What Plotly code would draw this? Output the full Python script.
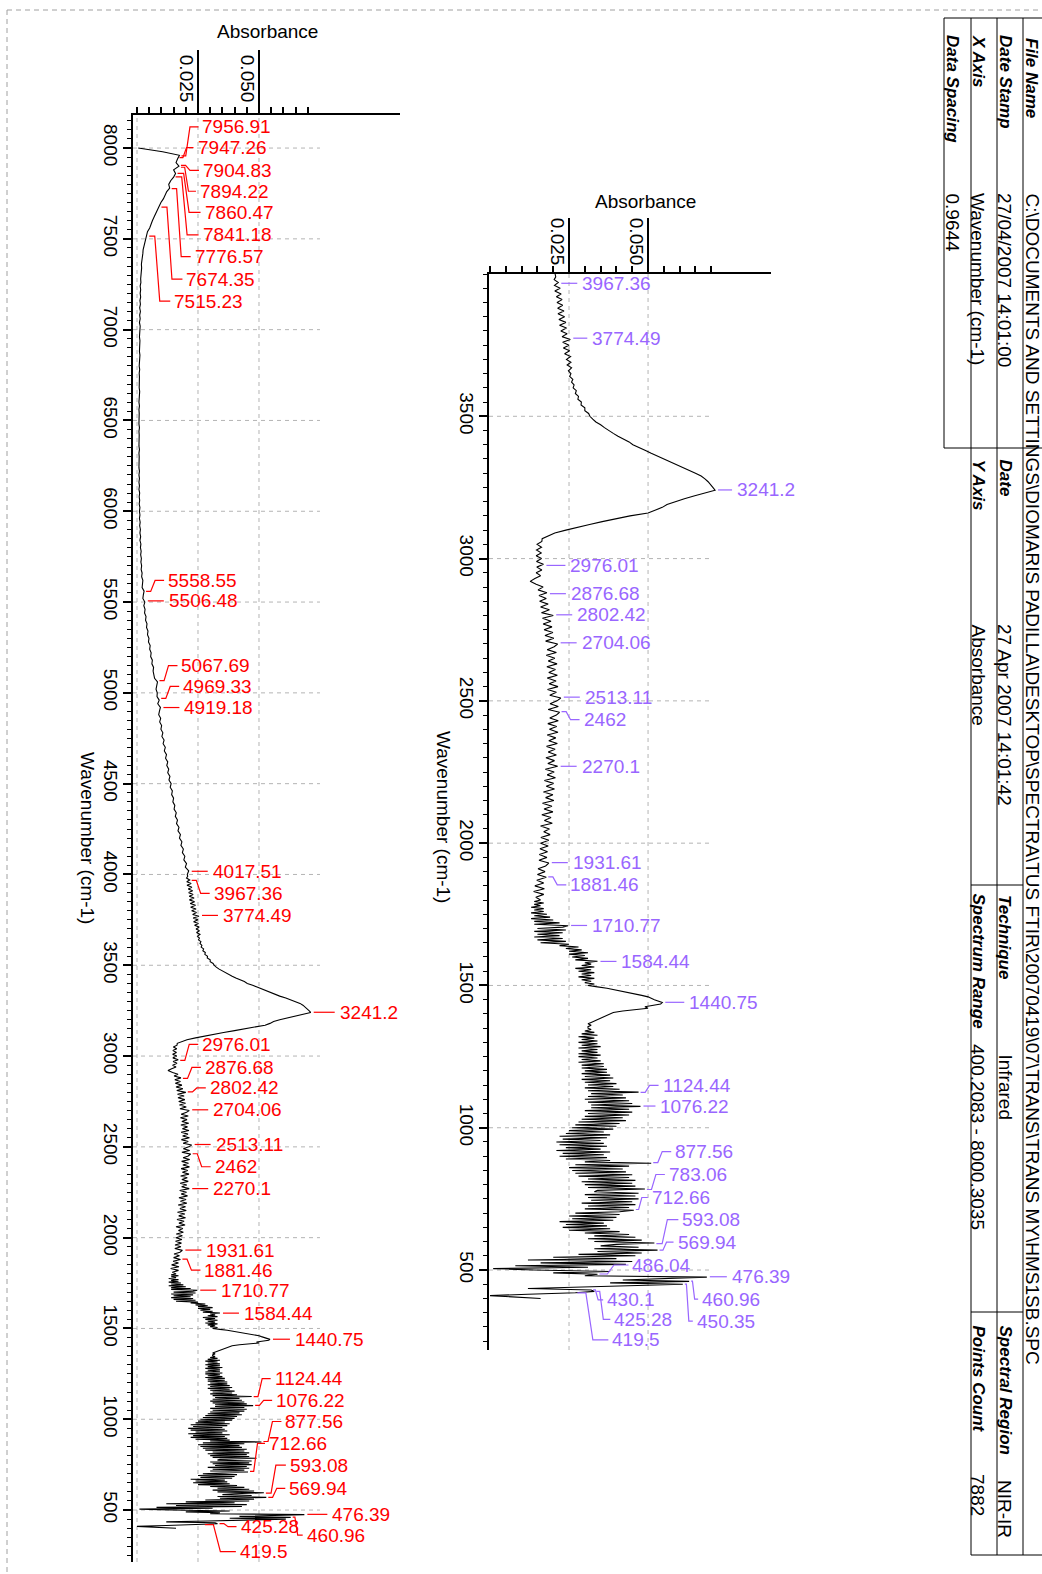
import numpy as np
import plotly.graph_objects as go

W, H = 1042, 1574
FONT = "Liberation Sans"
RED = "#ff0000"
PURPLE = "#9966ff"
GRID = "#b4b4b4"

# -----------------------------------------------------------
# Spectrum, absorbance
# -----------------------------------------------------------
# 400 .. 1800 cm-1, every 5 cm-1
abs_400_1800 = [
    0.016, 0.006, 0.000, 0.012, 0.027, 0.033, 0.032, 0.012, 0.029, 0.044,
    0.061, 0.038, 0.063, 0.042, 0.055, 0.0686, 0.030, 0.034, 0.020, 0.038,
    0.014, 0.001, 0.031, 0.008, 0.043, 0.016, 0.045, 0.012, 0.040, 0.020,
    0.046, 0.028, 0.048, 0.034, 0.053, 0.033, 0.047, 0.035, 0.040, 0.052,
    0.033, 0.048, 0.031, 0.046, 0.033, 0.044, 0.030, 0.041, 0.025, 0.038,
    0.023, 0.037, 0.024, 0.036, 0.022, 0.039, 0.026, 0.040, 0.025, 0.041,
    0.027, 0.041, 0.0455, 0.030, 0.044, 0.031, 0.046, 0.029, 0.045, 0.032,
    0.047, 0.031, 0.046, 0.030, 0.047, 0.033, 0.034, 0.049, 0.031, 0.046,
    0.030, 0.045, 0.029, 0.046, 0.031, 0.044, 0.028, 0.045, 0.027, 0.043,
    0.026, 0.042, 0.025, 0.044, 0.027, 0.051, 0.030, 0.038, 0.024, 0.037,
    0.022, 0.036, 0.023, 0.038, 0.021, 0.035, 0.024, 0.037, 0.022, 0.036,
    0.021, 0.035, 0.023, 0.037, 0.022, 0.038, 0.024, 0.036, 0.025, 0.039,
    0.026, 0.040, 0.027, 0.041, 0.028, 0.043, 0.029, 0.042, 0.030, 0.044,
    0.031, 0.045, 0.030, 0.044, 0.032, 0.0476, 0.032, 0.045, 0.031, 0.044,
    0.030, 0.043, 0.031, 0.042, 0.032, 0.047, 0.031, 0.041, 0.030, 0.039,
    0.031, 0.040, 0.030, 0.038, 0.029, 0.039, 0.030, 0.038, 0.029, 0.037,
    0.030, 0.037, 0.029, 0.036, 0.029, 0.036, 0.028, 0.035, 0.029, 0.034,
    0.028, 0.035, 0.028, 0.034, 0.029, 0.034, 0.028, 0.035, 0.029, 0.034,
    0.028, 0.034, 0.029, 0.033, 0.028, 0.034, 0.029, 0.033, 0.030, 0.032,
    0.031, 0.031, 0.032, 0.031, 0.032, 0.033, 0.034, 0.035, 0.036, 0.037,
    0.038, 0.039, 0.042, 0.046, 0.050, 0.049, 0.052, 0.054, 0.0545, 0.053,
    0.052, 0.051, 0.050, 0.048, 0.046, 0.044, 0.042, 0.040, 0.037, 0.034,
    0.031, 0.033, 0.030, 0.032, 0.029, 0.033, 0.028, 0.032, 0.029, 0.033,
    0.028, 0.032, 0.027, 0.033, 0.029, 0.032, 0.030, 0.034, 0.027, 0.031,
    0.026, 0.030, 0.025, 0.031, 0.025, 0.029, 0.024, 0.028, 0.022, 0.025,
    0.016, 0.024, 0.015, 0.023, 0.014, 0.022, 0.015, 0.023, 0.014, 0.024,
    0.015, 0.023, 0.0247, 0.014, 0.022, 0.014, 0.020, 0.013, 0.019, 0.014,
    0.018, 0.013, 0.017, 0.014, 0.017, 0.013, 0.016, 0.014, 0.017, 0.014,
    0.016,
]

# 1810 .. 3990 cm-1, every 10 cm-1
abs_1810_3990 = [
    0.0145, 0.0170, 0.0138, 0.0172, 0.0142, 0.0170, 0.0148, 0.0178, 0.0150, 0.0174,
    0.0152, 0.0176, 0.0186, 0.0155, 0.0180, 0.0156, 0.0182, 0.0158, 0.0184, 0.0160,
    0.0186, 0.0161, 0.0190, 0.0170, 0.0188, 0.0160, 0.0197, 0.0172, 0.0193, 0.0164,
    0.0199, 0.0171, 0.0196, 0.0166, 0.0202, 0.0176, 0.0199, 0.0169, 0.0204, 0.0178,
    0.0201, 0.0172, 0.0207, 0.0181, 0.0203, 0.0175, 0.0214, 0.0183, 0.0204, 0.0177,
    0.0210, 0.0184, 0.0206, 0.0179, 0.0213, 0.0186, 0.0208, 0.0181, 0.0215, 0.0188,
    0.0211, 0.0183, 0.0216, 0.0189, 0.0210, 0.0220, 0.0184, 0.0216, 0.0190, 0.0212,
    0.0224, 0.0189, 0.0210, 0.0182, 0.0215, 0.0187, 0.0209, 0.0181, 0.0213, 0.0186,
    0.0207, 0.0180, 0.0212, 0.0184, 0.0205, 0.0178, 0.0210, 0.0181, 0.0203, 0.0214,
    0.0176, 0.0202, 0.0174, 0.0199, 0.0171, 0.0196, 0.0168, 0.0193, 0.0166, 0.0200,
    0.0163, 0.0188, 0.0160, 0.0184, 0.0157, 0.0178, 0.0155, 0.0180, 0.0152, 0.0168,
    0.0146, 0.0127, 0.0142, 0.0160, 0.0146, 0.0164, 0.0148, 0.0169, 0.0147, 0.0163,
    0.0146, 0.0162, 0.0147, 0.0163, 0.0149, 0.0164, 0.0165, 0.0185, 0.0205, 0.0240,
    0.0274, 0.0315, 0.0355, 0.0400, 0.0443, 0.0500, 0.0525, 0.0545, 0.0560, 0.0585,
    0.0615, 0.0645, 0.0680, 0.0712, 0.0705, 0.0698, 0.0690, 0.0680, 0.0668, 0.0650,
    0.0630, 0.0610, 0.0585, 0.0565, 0.0545, 0.0528, 0.0510, 0.0492, 0.0474, 0.0452,
    0.0440, 0.0420, 0.0405, 0.0390, 0.0375, 0.0362, 0.0350, 0.0335, 0.0325, 0.0316,
    0.0312, 0.0300, 0.0300, 0.0288, 0.0289, 0.0278, 0.0280, 0.0270, 0.0273, 0.0263,
    0.0266, 0.0258, 0.0262, 0.0252, 0.0256, 0.0248, 0.0258, 0.0244, 0.0256, 0.0242,
    0.0255, 0.0236, 0.0252, 0.0232, 0.0250, 0.0230, 0.0254, 0.0228, 0.0244, 0.0224,
    0.0242, 0.0220, 0.0240, 0.0218, 0.0236, 0.0215, 0.0234, 0.0214, 0.0230, 0.0212,
    0.0228, 0.0210, 0.0225, 0.0205, 0.0222, 0.0204, 0.0216, 0.0203, 0.0208,
]

# 4000 .. 8000 cm-1, every 20 cm-1
abs_4000_8000 = [
    0.0206, 0.0212, 0.0198, 0.0203, 0.0192, 0.0196, 0.0186, 0.0190, 0.0180, 0.0184,
    0.0174, 0.0178, 0.0168, 0.0172, 0.0162, 0.0166, 0.0157, 0.0161, 0.0152, 0.0155,
    0.0147, 0.0150, 0.0142, 0.0145, 0.0136, 0.0140, 0.0131, 0.0135, 0.0126, 0.0130,
    0.0122, 0.0126, 0.0117, 0.0121, 0.0112, 0.0116, 0.0107, 0.0111, 0.0102, 0.0106,
    0.0098, 0.0101, 0.0093, 0.0097, 0.0089, 0.0092, 0.0096, 0.0085, 0.0091, 0.0082,
    0.0083, 0.0078, 0.0081, 0.0084, 0.0072, 0.0070, 0.0066, 0.0068, 0.0061, 0.0063,
    0.0056, 0.0058, 0.0052, 0.0054, 0.0047, 0.0049, 0.0043, 0.0045, 0.0039, 0.0041,
    0.0035, 0.0037, 0.0031, 0.0033, 0.0028, 0.0032, 0.0024, 0.0026, 0.0029, 0.0021,
    0.0022, 0.0024, 0.0019, 0.0021, 0.0017, 0.0019, 0.0016, 0.0018, 0.0015, 0.0017,
    0.0014, 0.0016, 0.0012, 0.0015, 0.0012, 0.0014, 0.0011, 0.0013, 0.0010, 0.0012,
    0.0010, 0.0012, 0.0009, 0.0011, 0.0009, 0.0011, 0.0008, 0.0010, 0.0008, 0.0010,
    0.0008, 0.0010, 0.0008, 0.0009, 0.0007, 0.0009, 0.0008, 0.0010, 0.0008, 0.0009,
    0.0007, 0.0009, 0.0008, 0.0010, 0.0008, 0.0009, 0.0007, 0.0009, 0.0008, 0.0010,
    0.0008, 0.0010, 0.0009, 0.0011, 0.0009, 0.0010, 0.0008, 0.0010, 0.0009, 0.0011,
    0.0009, 0.0011, 0.0010, 0.0012, 0.0010, 0.0011, 0.0009, 0.0012, 0.0010, 0.0012,
    0.0011, 0.0013, 0.0010, 0.0013, 0.0011, 0.0014, 0.0011, 0.0014, 0.0012, 0.0015,
    0.0013, 0.0015, 0.0013, 0.0016, 0.0015, 0.0017, 0.0016, 0.0019, 0.0018, 0.0021,
    0.0021, 0.0024, 0.0025, 0.0029, 0.0031, 0.0037, 0.0042, 0.0043, 0.0052, 0.0056,
    0.0063, 0.0070, 0.0077, 0.0082, 0.0092, 0.0098, 0.0108, 0.0114, 0.0122, 0.0134,
    0.0130, 0.0138, 0.0150, 0.0158, 0.0150, 0.0172, 0.0160, 0.0166, 0.0174, 0.0105,
    0.0005,
]

wn_400_1800 = np.arange(400, 1801, 5)
wn_1810_3990 = np.arange(1810, 3991, 10)
wn_4000_8000 = np.arange(4000, 8001, 20)
assert len(wn_400_1800) == len(abs_400_1800)
assert len(wn_1810_3990) == len(abs_1810_3990)
assert len(wn_4000_8000) == len(abs_4000_8000)

wn_all = np.concatenate([wn_400_1800, wn_1810_3990, wn_4000_8000]).astype(float)
ab_all = np.array(abs_400_1800 + abs_1810_3990 + abs_4000_8000)
step_all = np.concatenate([np.full(len(wn_400_1800), 5.0),
                           np.full(len(wn_1810_3990), 10.0),
                           np.full(len(wn_4000_8000), 20.0)])

# -----------------------------------------------------------
# Peak labels (picked wavenumbers) and their label offsets in px
# -----------------------------------------------------------
left_peaks = [7956.91, 7947.26, 7904.83, 7894.22, 7860.47, 7841.18, 7776.57,
              7674.35, 7515.23, 5558.55, 5506.48, 5067.69, 4969.33, 4919.18,
              4017.51, 3967.36, 3774.49, 3241.2, 2976.01, 2876.68, 2802.42,
              2704.06, 2513.11, 2462, 2270.1, 1931.61, 1881.46, 1710.77,
              1584.44, 1440.75, 1124.44, 1076.22, 877.56, 712.66, 593.08,
              569.94, 476.39, 460.96, 425.28, 419.5]
left_dy = [-29, -10, 5, 24, 39, 58, 68, 72, 65, -11, 0, -15, -12, 0,
           0, 13, 0, 0, -16, -11, -4, 0, 0, 13, 0, 0, 11, 0,
           0, 0, -18, -5, -20, -28, -28, -9, 0, 18, 3, 27]
left_dx = [21, 18, 22, 19, 27, 27, 23, 25, 25, 22, 22, 22, 22, 22,
           22, 22, 22, 27, 22, 22, 22, 22, 22, 22, 22, 22, 22, 22,
           22, 23, 21, 21, 22, 19, 24, 21, 26, 14, 21, 35]

right_peaks = [3967.36, 3774.49, 3241.2, 2976.01, 2876.68, 2802.42, 2704.06,
               2513.11, 2462, 2270.1, 1931.61, 1881.46, 1710.77, 1584.44,
               1440.75, 1124.44, 1076.22, 877.56, 783.06, 712.66, 593.08,
               569.94, 486.04, 476.39, 460.96, 450.35, 430.1, 425.28, 419.5]
right_dy = [0, 0, 0, 0, 0, 0, 0, 0, 8, 0, 0, 8, 0, 0,
            0, -7, 0, -11, -15, -12, -24, -8, -9, 0, 18, 37, 10, 28, 47]
right_dx = [22, 20, 20, 25, 22, 22, 22, 22, 22, 22, 22, 22, 22, 22,
            25, 22, 18, 22, 22, 16, 26, 18, 33, 23, 11, 12, 14, 18, 35]

# -----------------------------------------------------------
# Info table
# -----------------------------------------------------------
table_labels = ["File Name", "Date Stamp", "Date", "Technique", "Spectral Region",
                "X Axis", "Y Axis", "Spectrum Range", "Points Count", "Data Spacing"]
table_values = [r"C:\DOCUMENTS AND SETTINGS\DIOMARIS PADILLA\DESKTOP\SPECTRA\TUS FTIR\20070419\07\TRANS\TRANS MY\HMS1SB.SPC",
                "27/04/2007 14:01:00", "27 Apr 2007 14:01:42", "Infrared", "NIR-IR",
                "Wavenumber (cm-1)", "Absorbance", "400.2083 - 8000.3035", "7882", "0.9644"]
# (row centre x, label start y, value start y) in page pixels
table_cells = [(1032, 36, 191), (1005, 33, 191), (1005, 457, 622), (1005, 893, 1052),
               (1005, 1323, 1478), (978, 33, 191), (978, 457, 622), (978, 891, 1042),
               (978, 1323, 1472), (952, 33, 191)]


def px(x):
    return x / W


def py(y):
    return 1 - y / H


def peak_abs(w):
    near = np.abs(wn_all - w) <= 0.55 * step_all
    return float(ab_all[near].max())


def connector(dx, dy):
    if dy == 0:
        return f"M 3,0 L {dx - 3},0"
    return (f"M 2,0 L {0.3 * dx:.1f},0 L {0.5 * dx:.1f},{-dy} "
            f"L {dx - 2},{-dy}")


# panel geometry in page pixels
L_X0, L_X1, L_Y0, L_Y1 = 133, 400, 115, 1562
R_X0, R_X1, R_Y0, R_Y1 = 489, 771, 274, 1350
L_XR, L_YR = [-0.00164, 0.1078], [214, 8182]
R_XR, R_YR = [-0.00032, 0.0889], [219, 4000]

minor_abs = [round(i * 0.005, 3) for i in range(15)]

fig = go.Figure()

fig.add_trace(go.Scatter(x=ab_all, y=wn_all, mode="lines",
                         line=dict(color="black", width=1.1),
                         xaxis="x", yaxis="y", hoverinfo="skip"))
keep = wn_all <= 4000
fig.add_trace(go.Scatter(x=ab_all[keep], y=wn_all[keep], mode="lines",
                         line=dict(color="black", width=1.1),
                         xaxis="x2", yaxis="y2", hoverinfo="skip"))


def abs_axis(x0, x1, rng, anchor, ticklen, standoff):
    return dict(domain=[px(x0), px(x1)], range=rng, anchor=anchor, side="top",
                showline=True, linecolor="black", linewidth=2,
                tickmode="array", tickvals=[0.025, 0.05], ticktext=["0.025", "0.050"],
                ticks="outside", ticklen=ticklen, tickwidth=1.5, tickcolor="black",
                tickangle=90, tickfont=dict(family=FONT, size=19, color="black"),
                ticklabelstandoff=standoff, ticklabelshift=-12,
                minor=dict(tickmode="array", tickvals=minor_abs, ticks="outside",
                           ticklen=6, tickwidth=1.5, tickcolor="black", showgrid=False),
                showgrid=False, zeroline=False, fixedrange=True)


def wn_axis(y0, y1, rng, anchor, top):
    return dict(domain=[py(y1), py(y0)], range=rng, anchor=anchor,
                showline=True, linecolor="black", linewidth=2,
                tickmode="array", tickvals=list(range(500, top + 1, 500)),
                ticks="outside", ticklen=8, tickwidth=1.5, tickcolor="black",
                tickangle=90, tickfont=dict(family=FONT, size=19, color="black"),
                ticklabelstandoff=-4,
                minor=dict(dtick=50, tick0=0, ticks="outside", ticklen=4,
                           tickwidth=1.2, tickcolor="black", showgrid=False),
                showgrid=False, zeroline=False, fixedrange=True)


fig.update_layout(
    xaxis=abs_axis(L_X0, L_X1, L_XR, "y", 63, -59),
    yaxis=wn_axis(L_Y0, L_Y1, L_YR, "x", 8000),
    xaxis2=abs_axis(R_X0, R_X1, R_XR, "y2", 54, -54),
    yaxis2=wn_axis(R_Y0, R_Y1, R_YR, "x2", 3500),
)

# grid
dash = dict(color=GRID, width=1, dash="4px,4px")
for v in [0, 0.025, 0.05]:
    fig.add_shape(type="line", xref="x", yref="y domain", x0=v, x1=v, y0=0, y1=1,
                  line=dash, layer="below")
for w in range(500, 8001, 500):
    fig.add_shape(type="line", xref="x", yref="y", x0=L_XR[0], x1=0.075, y0=w, y1=w,
                  line=dash, layer="below")
for v in [0.025, 0.05]:
    fig.add_shape(type="line", xref="x2", yref="y2 domain", x0=v, x1=v, y0=0, y1=1,
                  line=dash, layer="below")
for w in range(500, 3501, 500):
    fig.add_shape(type="line", xref="x2", yref="y2", x0=R_XR[0], x1=0.070, y0=w, y1=w,
                  line=dash, layer="below")

# peak labels
for peaks, dys, dxs, xr, yr, col in [(left_peaks, left_dy, left_dx, "x", "y", RED),
                                     (right_peaks, right_dy, right_dx, "x2", "y2", PURPLE)]:
    for w, dy, dx in zip(peaks, dys, dxs):
        a = peak_abs(w)
        fig.add_shape(type="path", xref=xr, yref=yr, xsizemode="pixel", ysizemode="pixel",
                      xanchor=a, yanchor=w, path=connector(dx, dy),
                      line=dict(color=col, width=1.2))
        fig.add_annotation(x=a, y=w, xref=xr, yref=yr, text=f"{w:g}", showarrow=False,
                           xanchor="left", yanchor="middle", xshift=dx, yshift=-dy,
                           font=dict(family=FONT, size=19, color=col))

# axis titles
title_font = dict(family=FONT, size=19, color="black")
for x, y, txt, ang in [(267, 32, "Absorbance", 0), (645, 201, "Absorbance", 0),
                       (88, 838, "Wavenumber (cm-1)", 90), (444, 817, "Wavenumber (cm-1)", 90)]:
    fig.add_annotation(x=px(x), y=py(y), xref="paper", yref="paper", text=txt,
                       showarrow=False, textangle=ang, xanchor="center", yanchor="middle",
                       font=title_font)

# info table frame
frame = dict(color="black", width=1)
for x, y0, y1 in [(944, 18, 448), (971, 18, 1555), (997, 18, 1555), (1023, 18, 1555)]:
    fig.add_shape(type="line", xref="paper", yref="paper", x0=px(x), x1=px(x),
                  y0=py(y0), y1=py(y1), line=frame)
for y, x0, x1 in [(18, 944, 1042), (448, 944, 1042), (885, 971, 1023),
                  (1312, 971, 1023), (1555, 971, 1042)]:
    fig.add_shape(type="line", xref="paper", yref="paper", x0=px(x0), x1=px(x1),
                  y0=py(y), y1=py(y), line=frame)

for lab, val, (xc, ly, vy) in zip(table_labels, table_values, table_cells):
    fig.add_annotation(x=px(xc), y=py(ly), xref="paper", yref="paper",
                       text=f"<b><i>{lab}</i></b>", showarrow=False, textangle=90,
                       xanchor="center", yanchor="top",
                       font=dict(family=FONT, size=17, color="black"))
    fig.add_annotation(x=px(xc), y=py(vy), xref="paper", yref="paper",
                       text=val, showarrow=False, textangle=90,
                       xanchor="center", yanchor="top",
                       font=dict(family=FONT, size=19, color="black"))

# dashed page border
page = dict(color="#a0a0a0", width=1, dash="5px,4px")
fig.add_shape(type="line", xref="paper", yref="paper", x0=px(7), x1=1, y0=py(10), y1=py(10), line=page)
fig.add_shape(type="line", xref="paper", yref="paper", x0=px(7), x1=px(7), y0=py(10), y1=0, line=page)

fig.update_layout(width=W, height=H, margin=dict(l=0, r=0, t=0, b=0),
                  paper_bgcolor="white", plot_bgcolor="rgba(0,0,0,0)",
                  showlegend=False)

# page body margin would push the fixed-size figure 8px off the window
fig.write_html("out.html", config={"displayModeBar": False},
               post_script="document.body.style.margin='0px';")
